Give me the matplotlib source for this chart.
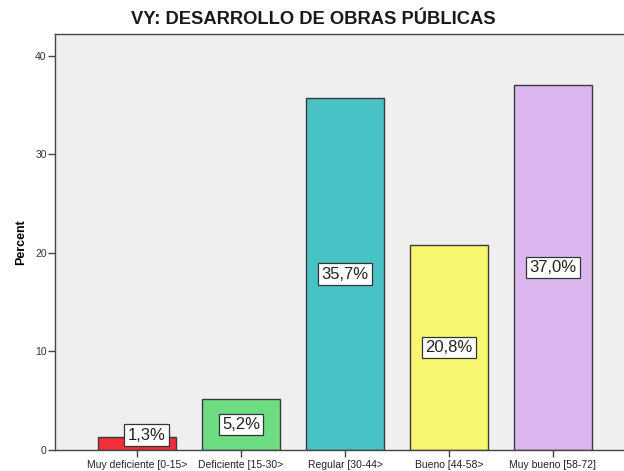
import numpy as np
import matplotlib
matplotlib.use('Agg')
import matplotlib.pyplot as plt

plt.rcParams['font.family'] = ['Liberation Sans', 'DejaVu Sans']

categorias = ['Muy deficiente [0-15>', 'Deficiente [15-30>', 'Regular [30-44>',
              'Bueno [44-58>', 'Muy bueno [58-72]']
porcentajes = [1.3, 5.2, 35.7, 20.8, 37.0]
etiquetas = ['1,3%', '5,2%', '35,7%', '20,8%', '37,0%']
colores = ['#EF3038', '#6EDC82', '#48C2C5', '#F8F870', '#DDB8F0']
yticks = [0, 10, 20, 30, 40]

fig = plt.figure(figsize=(6.24, 4.71), dpi=100)
ax = fig.add_axes([55/624, 1-450/471, 580/624, (450-34)/471])
ax.set_facecolor('#EFEFEF')

x = np.arange(len(categorias))
ax.bar(x, porcentajes, width=0.75, color=colores, edgecolor='#3A3A3A', linewidth=1.0, zorder=2)

for xi, v, t in zip(x, porcentajes, etiquetas):
    y = max(v / 2, 1.5)
    dx = 0.09 if v < 2 else 0
    ax.text(xi + dx, y, t, ha='center', va='center', fontsize=12, color='#222222', zorder=3,
            bbox=dict(boxstyle='square,pad=0.2', fc='white', ec='#333333', lw=0.9))

ax.set_xlim(-0.79, 4.79)
ax.set_ylim(0, 42.2)
ax.set_xticks(x)
ax.set_xticklabels(categorias, fontsize=7.5, color='#222222')
ax.set_yticks(yticks)
ax.tick_params(axis='y', labelsize=7.5, labelcolor='#333333', length=5, width=1, color='#444444', pad=1)
ax.tick_params(axis='x', length=5, width=1, color='#444444', pad=2)
ax.set_ylabel('Percent', fontsize=9, fontweight='bold', labelpad=6)

for s in ['left', 'top', 'bottom']:
    ax.spines[s].set_color('#444444')
    ax.spines[s].set_linewidth(1)
ax.spines['right'].set_visible(False)

fig.text(0.502, 0.958, 'VY: DESARROLLO DE OBRAS PÚBLICAS', ha='center', va='center',
         fontsize=13.2, fontweight='bold', color='#1a1a1a')

fig.savefig('out.png', dpi=100)
